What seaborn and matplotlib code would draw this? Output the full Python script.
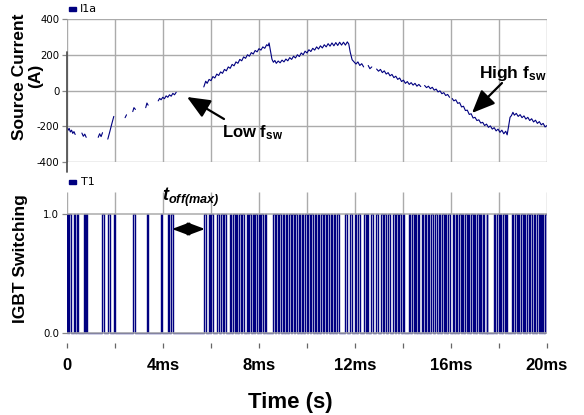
import numpy as np
import pandas as pd
import matplotlib
matplotlib.use("Agg")
import matplotlib.pyplot as plt
import seaborn as sns
from matplotlib.patches import Rectangle, FancyArrowPatch

# ---------------- data ----------------
nan = np.nan
# source current trace (time in ms, current in A); NaN marks a gap in the trace
cur_t = [0.00, 0.05, 0.09, 0.14, 0.19, 0.24, 0.29, 0.34, nan,
         0.62, 0.68, 0.74, 0.80, nan,
         1.30, 1.36, 1.42, 1.48, nan,
         1.70, 1.78, 1.86, 1.95, nan,
         2.42, 2.48, nan,
         2.74, 2.79, 2.85, nan,
         3.28, 3.33, 3.38, nan,
         3.80, 3.86, 3.92, 3.99, 4.06, 4.13, 4.20, 4.27, 4.34, 4.41, 4.48, 4.55, nan,
         5.70, 5.78, 5.84, 5.92, 6.00, 6.08, 6.16, 6.24, 6.32, 6.40, 6.48, 6.56, 6.64, 6.72,
         6.80, 6.88, 6.96, 7.04, 7.12, 7.20, 7.28, 7.36, 7.44, 7.52, 7.60, 7.68, 7.76, 7.84,
         7.92, 8.00, 8.08, 8.16, 8.24, 8.32, 8.38, 8.42, 8.48, 8.54, 8.60, 8.66, 8.72, 8.80,
         8.88, 8.96, 9.04, 9.12, 9.20, 9.28, 9.36, 9.44, 9.52, 9.60, 9.68, 9.76, 9.84, 9.92,
         10.00, 10.08, 10.16, 10.24, 10.32, 10.40, 10.48, 10.56, 10.64, 10.72, 10.80, 10.88,
         10.96, 11.04, 11.12, 11.20, 11.28, 11.36, 11.44, 11.52, 11.60, 11.68, 11.74, 11.80,
         11.88, 11.96, 12.04, 12.12, 12.20, 12.28, 12.36, nan,
         12.55, 12.62, 12.70, nan,
         12.90, 12.98, 13.06, 13.14, 13.22, 13.30, 13.38, 13.46, 13.54, 13.62, 13.70, 13.78,
         13.86, 13.94, 14.02, 14.10, 14.18, 14.26, 14.34, 14.42, 14.50, 14.58, 14.66, 14.74, nan,
         14.90, 14.98, 15.06, 15.14, 15.22, 15.30, 15.38, 15.46, 15.54, 15.62, 15.70, 15.78,
         15.86, 15.94, nan,
         16.05, 16.12, 16.20, 16.28, 16.36, 16.44, 16.52, 16.60, 16.68, 16.76, 16.84, 16.92,
         17.00, 17.08, 17.16, 17.24, 17.32, 17.40, 17.48, 17.56, 17.64, 17.72, 17.80, 17.88,
         17.96, 18.04, 18.12, 18.20, 18.28, 18.34, 18.40, 18.46, 18.52, 18.58, 18.64, 18.72,
         18.80, 18.88, 18.96, 19.04, 19.12, 19.20, 19.28, 19.36, 19.44, 19.52, 19.60, 19.68,
         19.76, 19.84, 19.92, 20.00]
cur_i = [-205, -222, -212, -232, -222, -240, -230, -246, nan,
         -238, -256, -244, -262, nan,
         -262, -242, -258, -236, nan,
         -272, -232, -190, -145, nan,
         -152, -136, nan,
         -118, -96, -106, nan,
         -96, -70, -82, nan,
         -58, -44, -52, -38, -46, -30, -38, -24, -32, -16, -24, -10, nan,
         20, 52, 40, 62, 55, 78, 70, 92, 84, 104, 96, 118, 110, 132,
         124, 146, 138, 160, 152, 174, 166, 188, 180, 200, 192, 212, 204, 224,
         216, 234, 226, 244, 236, 256, 250, 266, 220, 175, 158, 168, 152, 165,
         155, 170, 160, 176, 166, 184, 174, 192, 182, 200, 190, 210, 200, 220,
         210, 228, 218, 236, 226, 244, 232, 250, 238, 256, 244, 262,
         248, 266, 250, 268, 252, 270, 254, 270, 254, 272, 260, 215,
         172, 160, 148, 160, 140, 150, 132, nan,
         140, 122, 132, nan,
         120, 108, 118, 100, 110, 92, 100, 82, 90, 72, 80, 62,
         70, 50, 58, 40, 50, 34, 44, 30, 40, 24, 34, 22, nan,
         28, 16, 24, 10, 18, 2, 8, -8, -2, -18, -12, -28,
         -22, -38, nan,
         -45, -58, -52, -72, -68, -92, -88, -112, -110, -134, -130, -154,
         -150, -168, -164, -182, -178, -196, -188, -206, -198, -216, -208, -226,
         -216, -234, -222, -242, -228, -248, -200, -150, -140, -122, -138, -128,
         -145, -135, -152, -142, -160, -150, -168, -158, -176, -166, -184, -174,
         -192, -184, -204, -196]

# instrument vertical trace line at t = 0
axis_line_t = [0.0, 0.0]
axis_line_i = [215, -455]

# IGBT T1 switching edges (ms); the gate signal toggles 0 <-> 1 at each edge
sw_edges = [0.00, 0.05, 0.10, 0.17, 0.29, 0.35, 0.42, 0.46, 0.70, 0.74, 0.80, 0.84,
            1.46, 1.54, 1.71, 1.79, 1.95, 1.98, 2.75, 2.83, 3.33, 3.36, 3.92, 3.96,
            4.20, 4.23, 4.33, 4.42,
            5.72, 5.80, 5.92, 5.96, 6.02, 6.08, 6.27, 6.33, 6.42, 6.48, 6.55, 6.62,
            6.79, 6.85, 6.92, 6.98, 7.04, 7.10, 7.17, 7.23, 7.29, 7.36,
            7.48, 7.54, 7.60, 7.67, 7.73, 7.79, 7.85, 7.92, 7.98, 8.04, 8.10, 8.17, 8.23, 8.29,
            8.58, 8.65, 8.71, 8.78, 8.85, 8.92, 8.98, 9.05, 9.12, 9.18, 9.25, 9.32, 9.38, 9.45,
            9.52, 9.58, 9.65, 9.72, 9.78, 9.85, 9.92, 9.98, 10.05, 10.12, 10.18, 10.25, 10.32,
            10.38, 10.45, 10.52, 10.58, 10.65, 10.72, 10.78, 10.85, 10.92, 10.98, 11.05, 11.12,
            11.18, 11.25, 11.32,
            11.58, 11.67, 11.79, 11.88, 12.00, 12.06, 12.13, 12.19, 12.38, 12.44, 12.50, 12.56,
            12.67, 12.75, 12.88, 12.96, 13.08, 13.15, 13.22, 13.29, 13.38, 13.46,
            13.58, 13.65, 13.71, 13.78, 13.85, 13.92, 13.98, 14.04,
            14.25, 14.31, 14.38, 14.44, 14.50, 14.56, 14.62, 14.67,
            14.79, 14.85, 14.90, 14.96, 15.04, 15.10, 15.17, 15.25, 15.33, 15.40,
            15.50, 15.56, 15.63, 15.69, 15.75, 15.81, 15.88, 15.94,
            16.08, 16.14, 16.21, 16.27, 16.33, 16.40, 16.46, 16.52, 16.58, 16.65, 16.71, 16.77,
            16.83, 16.90, 16.96, 17.02, 17.08, 17.15, 17.21, 17.25,
            17.33, 17.38, 17.48, 17.52,
            17.79, 17.85, 17.92, 17.98, 18.04, 18.10, 18.17, 18.23, 18.29, 18.33,
            18.54, 18.60, 18.67, 18.73, 18.79, 18.85, 18.92, 18.98, 19.04, 19.10,
            19.17, 19.23, 19.30, 19.36, 19.46, 19.52, 19.58, 19.65, 19.71, 19.75,
            19.79, 19.85, 19.92, 19.98]

x_ticks = [0, 2, 4, 6, 8, 10, 12, 14, 16, 18, 20]
x_tick_labels = ["0", "", "4ms", "", "8ms", "", "12ms", "", "16ms", "", "20ms"]
cur_yticks = [-400, -200, 0, 200, 400]
cur_ytick_labels = ["-400", "-200", "0", "200", "400"]
sw_yticks = [0, 1]
sw_ytick_labels = ["0.0", "1.0"]

# ---------------- build frames ----------------
seg, sid = [], 0
for v in cur_i:
    if np.isnan(v):
        sid += 1
    seg.append(sid)
df_cur = pd.DataFrame({"t": cur_t, "i": cur_i, "seg": seg}).dropna()

sx, sy, state = [0.0], [0], 0
for e in sw_edges:
    sx += [e, e]
    sy += [state, 1 - state]
    state = 1 - state
sx.append(20.0)
sy.append(state)
df_sw = pd.DataFrame({"t": sx, "v": sy, "u": 0})

# ---------------- figure ----------------
sns.set_theme(style="white")
plt.rcParams["font.family"] = ["Liberation Sans", "DejaVu Sans"]
plt.rcParams.update({
    "text.color": "black", "axes.labelcolor": "black",
    "xtick.color": "black", "ytick.color": "black",
    "mathtext.fontset": "custom",
    "mathtext.rm": "Liberation Sans",
    "mathtext.bf": "Liberation Sans:bold",
    "mathtext.it": "Liberation Sans:italic",
    "mathtext.bfit": "Liberation Sans:bold:italic",
})

W, H = 584, 415
fig = plt.figure(figsize=(W / 100, H / 100), dpi=100)
fig.patch.set_facecolor("white")

def fx(x):
    return x / W

def fy(y):
    return 1 - y / H

NAVY = "#000080"
GRID = "#ababab"

# top panel
ax1 = fig.add_axes([fx(67), fy(162), 480 / W, 143 / H])
sns.lineplot(data=df_cur, x="t", y="i", units="seg", estimator=None, sort=False,
             color=NAVY, lw=0.8, ax=ax1)
sns.lineplot(x=axis_line_t, y=axis_line_i, color="#555555", lw=1.3, ax=ax1,
             estimator=None, sort=False)
ax1.lines[-1].set_clip_on(False)
ax1.set_xlim(0, 20)
ax1.set_ylim(-400, 400)
ax1.set_xticks(x_ticks)
ax1.set_xticklabels([])
ax1.set_yticks(cur_yticks)
ax1.set_yticklabels(cur_ytick_labels, fontfamily="DejaVu Sans", fontsize=7.3, color="black")
ax1.grid(True, color=GRID, lw=1.0)
ax1.tick_params(axis="x", length=0)
ax1.tick_params(axis="y", length=3.5, width=0.9, color="#888888", pad=2, left=True)
for s in ax1.spines.values():
    s.set_visible(False)
ax1.set_xlabel("")
ax1.set_ylabel("")

# bottom panel
ax2 = fig.add_axes([fx(67), fy(343), 480 / W, (343 - 192) / H])
ytop = 1 + 22 / 119
ylow = -10 / 119
ax2.vlines(x_ticks, 1.0, ytop, color=GRID, lw=1.0, zorder=0)
sns.lineplot(data=df_sw, x="t", y="v", units="u", estimator=None, sort=False,
             color=NAVY, lw=1.0, ax=ax2)
ax2.axhline(1.0, color=GRID, lw=1.1, zorder=5)
ax2.axhline(0.0, color=GRID, lw=1.1, zorder=5)
ax2.set_xlim(0, 20)
ax2.set_ylim(ylow, ytop)
ax2.set_xticks(x_ticks)
ax2.set_xticklabels(x_tick_labels, fontsize=12, fontweight="bold", color="black")
ax2.set_yticks(sw_yticks)
ax2.set_yticklabels(sw_ytick_labels, fontfamily="DejaVu Sans", fontsize=7.3, color="black")
ax2.tick_params(axis="x", length=3.5, width=0.9, color="#666666", pad=7, bottom=True)
ax2.tick_params(axis="y", length=3.5, width=0.9, color="#888888", pad=2, left=True)
ax2.grid(False)
for s in ax2.spines.values():
    s.set_visible(False)
ax2.set_xlabel("")
ax2.set_ylabel("")

# axis titles
fig.text(fx(20), fy(77), "Source Current", rotation=90, ha="center", va="center",
         fontsize=12.5, fontweight="bold")
fig.text(fx(36), fy(76), "(A)", rotation=90, ha="center", va="center",
         fontsize=12.5, fontweight="bold")
fig.text(fx(21), fy(259), "IGBT Switching", rotation=90, ha="center", va="center",
         fontsize=12.5, fontweight="bold")
fig.text(fx(290), fy(402), "Time (s)", ha="center", va="center",
         fontsize=16, fontweight="bold")

# legends
fig.add_artist(Rectangle((fx(69), fy(11)), 7 / W, 4 / H, transform=fig.transFigure,
                         color=NAVY))
fig.text(fx(80), fy(9), "I1a", ha="left", va="center", fontsize=8,
         fontfamily="DejaVu Sans")
fig.add_artist(Rectangle((fx(69), fy(184)), 7 / W, 4 / H, transform=fig.transFigure,
                         color=NAVY))
fig.text(fx(81), fy(182), "T1", ha="left", va="center", fontsize=8,
         fontfamily="DejaVu Sans")

# annotations
arrow = dict(arrowstyle="-|>,head_length=0.7,head_width=0.3", lw=1.6, color="black",
             mutation_scale=20, shrinkA=0, shrinkB=0)
fig.add_artist(FancyArrowPatch(
    (fx(224), fy(119)), (fx(187), fy(97)), transform=fig.transFigure, **arrow))
fig.text(fx(222), fy(137), r"Low f$_{\mathbf{sw}}$", ha="left", va="baseline",
         fontsize=12, fontweight="bold")

fig.add_artist(FancyArrowPatch(
    (fx(502), fy(83)), (fx(472), fy(113)), transform=fig.transFigure, **arrow))
fig.text(fx(479), fy(78), r"High f$_{\mathbf{sw}}$", ha="left", va="baseline",
         fontsize=12.5, fontweight="bold")

fig.text(fx(162), fy(201), r"$\mathbfit{t}_{\mathbfit{off(max)}}$", ha="left",
         va="baseline", fontsize=13)
darrow = dict(arrowstyle="<|-|>,head_length=0.8,head_width=0.3", lw=1.5, color="black",
              mutation_scale=13, shrinkA=0, shrinkB=0)
fig.add_artist(FancyArrowPatch(
    (fx(172), fy(229)), (fx(205), fy(229)), transform=fig.transFigure, **darrow))

fig.savefig("out.png", dpi=100, facecolor="white")
